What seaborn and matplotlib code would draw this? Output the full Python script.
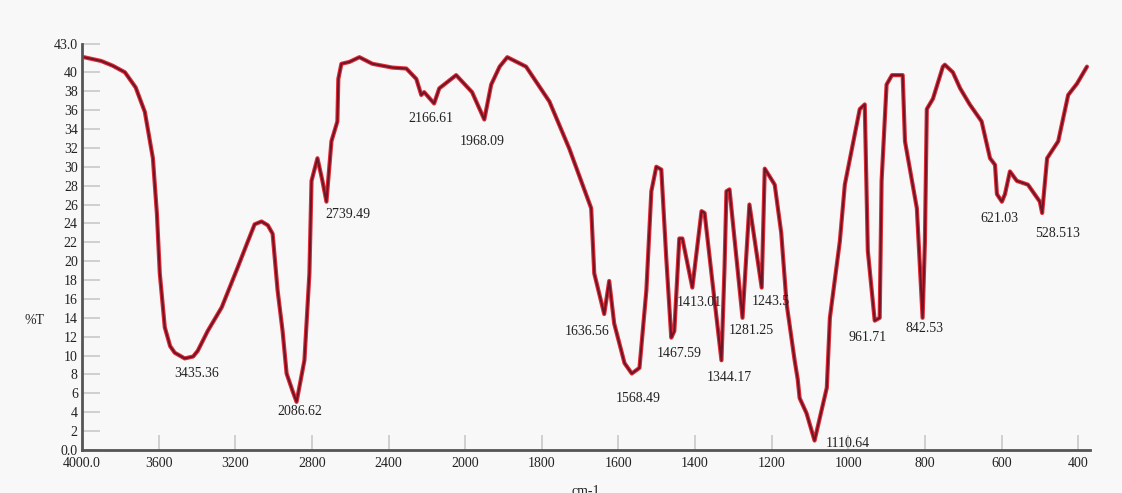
import numpy as np
import pandas as pd
import matplotlib
matplotlib.use("Agg")
import matplotlib.pyplot as plt
import seaborn as sns

# FTIR spectrum (wavenumber in cm-1, transmittance %T)
wavenumber = [3990, 3900, 3840, 3776, 3720, 3672, 3630, 3609, 3594, 3568,
              3540, 3516, 3464, 3420, 3396, 3344, 3271, 3188, 3140, 3099,
              3063, 3030, 3005, 2979, 2953, 2932, 2900, 2880, 2839, 2813,
              2802, 2771, 2745, 2724, 2698, 2667, 2662, 2646, 2604, 2552,
              2484, 2380, 2307, 2255, 2229, 2214, 2162, 2135, 2047, 1982,
              1950, 1932, 1910, 1890, 1841, 1780, 1728, 1671, 1663, 1637,
              1624, 1611, 1584, 1565, 1545, 1527, 1514, 1501, 1488, 1475,
              1462, 1454, 1441, 1433, 1407, 1383, 1375, 1354, 1331, 1323,
              1318, 1310, 1276, 1258, 1226, 1218, 1192, 1175, 1161, 1140,
              1132, 1127, 1109, 1088, 1056, 1048, 1022, 1009, 970, 957,
              949, 931, 918, 913, 900, 886, 858, 852, 821, 810,
              806, 800, 795, 779, 753, 748, 727, 708, 683, 652,
              630, 617, 612, 599, 591, 578, 560, 531, 500, 494,
              481, 452, 426, 403, 377]
transmittance = [41.6, 41.2, 40.7, 40.0, 38.4, 35.8, 30.9, 25.0, 18.7, 13.0,
                 11.0, 10.3, 9.7, 9.9, 10.5, 12.6, 15.1, 19.3, 21.8, 23.9,
                 24.2, 23.8, 22.9, 16.9, 12.6, 8.1, 6.2, 5.1, 9.5, 18.7,
                 28.5, 30.9, 28.5, 26.3, 32.7, 34.8, 39.3, 40.9, 41.1, 41.6,
                 40.9, 40.5, 40.4, 39.3, 37.6, 37.9, 36.7, 38.3, 39.7, 37.9,
                 35.0, 38.7, 40.6, 41.6, 40.6, 36.9, 31.9, 25.6, 18.7, 14.4,
                 17.9, 13.4, 9.2, 8.1, 8.7, 16.9, 27.4, 30.0, 29.7, 20.3,
                 11.9, 12.6, 22.4, 22.4, 17.2, 25.3, 25.1, 17.6, 9.5, 19.3,
                 27.4, 27.6, 14.0, 26.0, 17.2, 29.8, 28.1, 23.0, 15.5, 9.5,
                 7.5, 5.5, 3.9, 1.0, 6.6, 14.0, 22.1, 28.1, 36.1, 36.6,
                 21.1, 13.7, 14.0, 28.5, 38.7, 39.7, 39.7, 32.7, 25.6, 17.0,
                 14.0, 22.0, 36.1, 37.2, 40.6, 40.8, 40.0, 38.3, 36.6, 34.8,
                 30.9, 30.2, 27.1, 26.3, 27.1, 29.5, 28.5, 28.1, 26.3, 25.1,
                 30.9, 32.7, 37.6, 38.8, 40.6]

# peak labels and the curve minima they belong to
peak_labels = ["3435.36", "2086.62", "2739.49", "2166.61", "1968.09", "1636.56",
               "1568.49", "1467.59", "1413.01", "1344.17", "1281.25", "1243.5",
               "1110.64", "961.71", "842.53", "621.03", "528.513"]
peak_wn = [3464, 2880, 2724, 2162, 1950, 1637, 1565, 1462, 1407, 1331, 1276,
           1226, 1088, 931, 806, 599, 494]
peak_t = [9.7, 5.1, 26.3, 36.7, 35.0, 14.4, 8.1, 11.9, 17.2, 9.5, 14.0,
          17.2, 1.0, 13.7, 14.0, 26.3, 25.1]
# label offsets (pixels, dx right, dy down)
peak_offsets = [(12, 15), (3, 10), (21, 13), (-3, 15), (-2, 22), (-17, 17),
                (6, 25), (8, 16), (7, 15), (8, 17), (9, 13), (9, 14),
                (33, 3), (-7, 17), (2, 11), (-3, 17), (15, 21)]

xtick_vals = [4000, 3600, 3200, 2800, 2400, 2000, 1800, 1600, 1400, 1200,
              1000, 800, 600, 400]
xtick_labels = ["4000.0", "3600", "3200", "2800", "2400", "2000", "1800",
                "1600", "1400", "1200", "1000", "800", "600", "400"]
ytick_vals = list(range(0, 42, 2)) + [43]
ytick_labels = ["0.0"] + [str(v) for v in range(2, 42, 2)] + ["43.0"]

spectrum = pd.DataFrame({"wn": wavenumber, "T": transmittance})

sns.set_style("ticks")
plt.rcParams["font.family"] = ["Liberation Serif", "DejaVu Serif"]
bg = "#f8f8f8"

fig = plt.figure(figsize=(11.22, 4.93), dpi=100, facecolor=bg)
ax = fig.add_axes([0.0731, 0.0872, 0.8984, 0.8236])
ax.set_facecolor(bg)

# red halo + dark core, like the scanned trace
sns.lineplot(data=spectrum, x="wn", y="T", sort=False, estimator=None,
             color="#e02a35", linewidth=3.0, ax=ax)
sns.lineplot(data=spectrum, x="wn", y="T", sort=False, estimator=None,
             color="#6b1526", linewidth=1.4, ax=ax)


# FTIR-style axis: half the scale above 2000 cm-1
def fwd(x):
    x = np.asarray(x, dtype=float)
    return np.where(x > 2000, 2000 + (x - 2000) / 2.0, x)


def inv(t):
    t = np.asarray(t, dtype=float)
    return np.where(t > 2000, 2000 + (t - 2000) * 2.0, t)


ax.set_xscale("function", functions=(fwd, inv))
ax.set_xlim(4000, 369)
ax.set_ylim(0, 43)

ax.set_xticks(xtick_vals)
ax.set_xticklabels(xtick_labels)
ax.set_yticks(ytick_vals)
ax.set_yticklabels(ytick_labels)
ax.xaxis.set_minor_locator(matplotlib.ticker.NullLocator())

ax.tick_params(axis="x", direction="in", length=11, width=1.4, color="#cfcfcf",
               labelsize=10, labelcolor="#222222", pad=5)
ax.tick_params(axis="y", direction="in", length=13, width=1.4, color="#cfcfcf",
               labelsize=10, labelcolor="#222222", pad=3)

for side in ["top", "right"]:
    ax.spines[side].set_visible(False)
for side in ["left", "bottom"]:
    ax.spines[side].set_color("#555555")
    ax.spines[side].set_linewidth(2)

ax.set_xlabel("cm-1", fontsize=10, color="#222222", labelpad=11)
ax.set_ylabel("%T", fontsize=10, color="#222222", rotation=0,
              ha="center", va="center")
ax.yaxis.set_label_coords(-0.047, 0.32)

for lab, wx, ty, (dx, dy) in zip(peak_labels, peak_wn, peak_t, peak_offsets):
    ax.annotate(lab, xy=(wx, ty), xytext=(dx, -dy), textcoords="offset pixels",
                ha="center", va="center", fontsize=10, color="#222222")

fig.savefig("out.png", dpi=100, facecolor=bg)
